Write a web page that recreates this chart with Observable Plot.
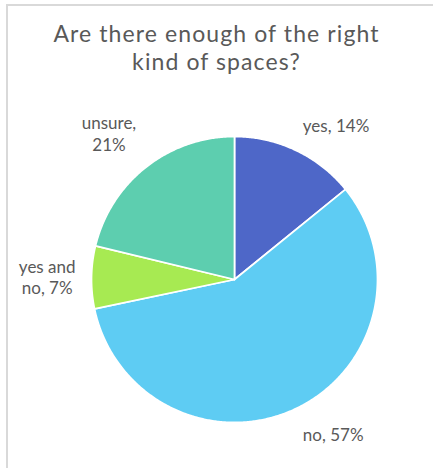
<!DOCTYPE html>
<html>
<head>
<meta charset="utf-8">
<script src="https://cdn.jsdelivr.net/npm/d3@7"></script>
<script src="https://cdn.jsdelivr.net/npm/@observablehq/plot@0.6"></script>
<style>
  html, body { margin: 0; padding: 0; background: #fff; }
  body { position: relative; width: 433px; height: 468px; overflow: hidden; font-family: Lato, "Open Sans", sans-serif; }
  #frame { position: absolute; left: 6px; top: 4px; right: -4px; bottom: -4px; border-top: 2px solid #d9d9d9; border-left: 2px solid #d9d9d9; pointer-events: none; }
  .title { position: absolute; left: 0; width: 433px; height: 28px; text-align: center; font-size: 23px; letter-spacing: 1.1px; line-height: 28px; color: #595959; white-space: nowrap; }
  #t1 { top: 19px; }
  #t2 { top: 47px; }
  #chart { position: absolute; left: 0; top: 100px; }
</style>
</head>
<body>
<div id="frame"></div>
<div class="title" id="t1">Are there enough of the right</div>
<div class="title" id="t2">kind of spaces?</div>
<div id="chart"></div>
<script>
const categories = ["yes", "no", "yes and no", "unsure"];
const percents = [14, 57, 7, 21];
const labelTexts = ["yes, 14%", "no, 57%", "yes and\nno, 7%", "unsure,\n21%"];
const colors = ["#4E67C8", "#5ECCF3", "#A7EA52", "#5DCEAF"];

const W = 433, H = 368;
const cx = 234, cy = 179;       // pie centre within the svg (px)
const R = 143;                   // pie radius (px)
const RL = 159;                  // label anchor radius (px)
const fontSize = 17, lineH = 1.25;

const arcs = d3.pie().sort(null).value(d => d)(percents);

// slice outlines (one unit = one pixel, y up)
const slicePts = [];
arcs.forEach((a, i) => {
  slicePts.push({cat: categories[i], x: 0, y: 0});
  const n = Math.max(2, Math.ceil((a.endAngle - a.startAngle) / (Math.PI / 360)));
  for (let k = 0; k <= n; k++) {
    const t = a.startAngle + (a.endAngle - a.startAngle) * k / n;
    slicePts.push({cat: categories[i], x: R * Math.sin(t), y: R * Math.cos(t)});
  }
  slicePts.push({cat: categories[i], x: 0, y: 0});
});

// label positions: nearest edge of label box at the slice's mid angle
const ctx = document.createElement("canvas").getContext("2d");
ctx.font = `${fontSize}px Lato`;
const labels = arcs.map((a, i) => {
  const m = (a.startAngle + a.endAngle) / 2;
  const lines = labelTexts[i].split("\n");
  const w = Math.max(...lines.map(l => ctx.measureText(l).width));
  const h = lines.length * fontSize * lineH;
  const s = Math.sin(m), c = Math.cos(m);
  const px = RL * s, py = RL * c;
  const ox = Math.abs(s) < 0.2 ? 0 : Math.sign(s) * w / 2;
  const oy = Math.abs(c) < 0.3 ? 0 : Math.sign(c) * h / 2;
  return {text: labelTexts[i], x: px + ox, y: py + oy};
});

const plot = Plot.plot({
  width: W, height: H,
  margin: 0,
  x: {domain: [-cx, W - cx], axis: null},
  y: {domain: [-(H - cy), cy], axis: null},
  color: {domain: categories, range: colors},
  style: {background: "transparent", overflow: "visible"},
  marks: [
    Plot.line(slicePts, {x: "x", y: "y", z: "cat", fill: "cat", stroke: "white", strokeWidth: 1.75, strokeLinejoin: "round"}),
    Plot.text(labels, {x: "x", y: "y", text: "text", textAnchor: "middle", lineAnchor: "middle",
      fontSize: fontSize, lineHeight: lineH, fill: "#595959", fontFamily: "Lato"})
  ]
});
document.getElementById("chart").appendChild(plot);
</script>
</body>
</html>
